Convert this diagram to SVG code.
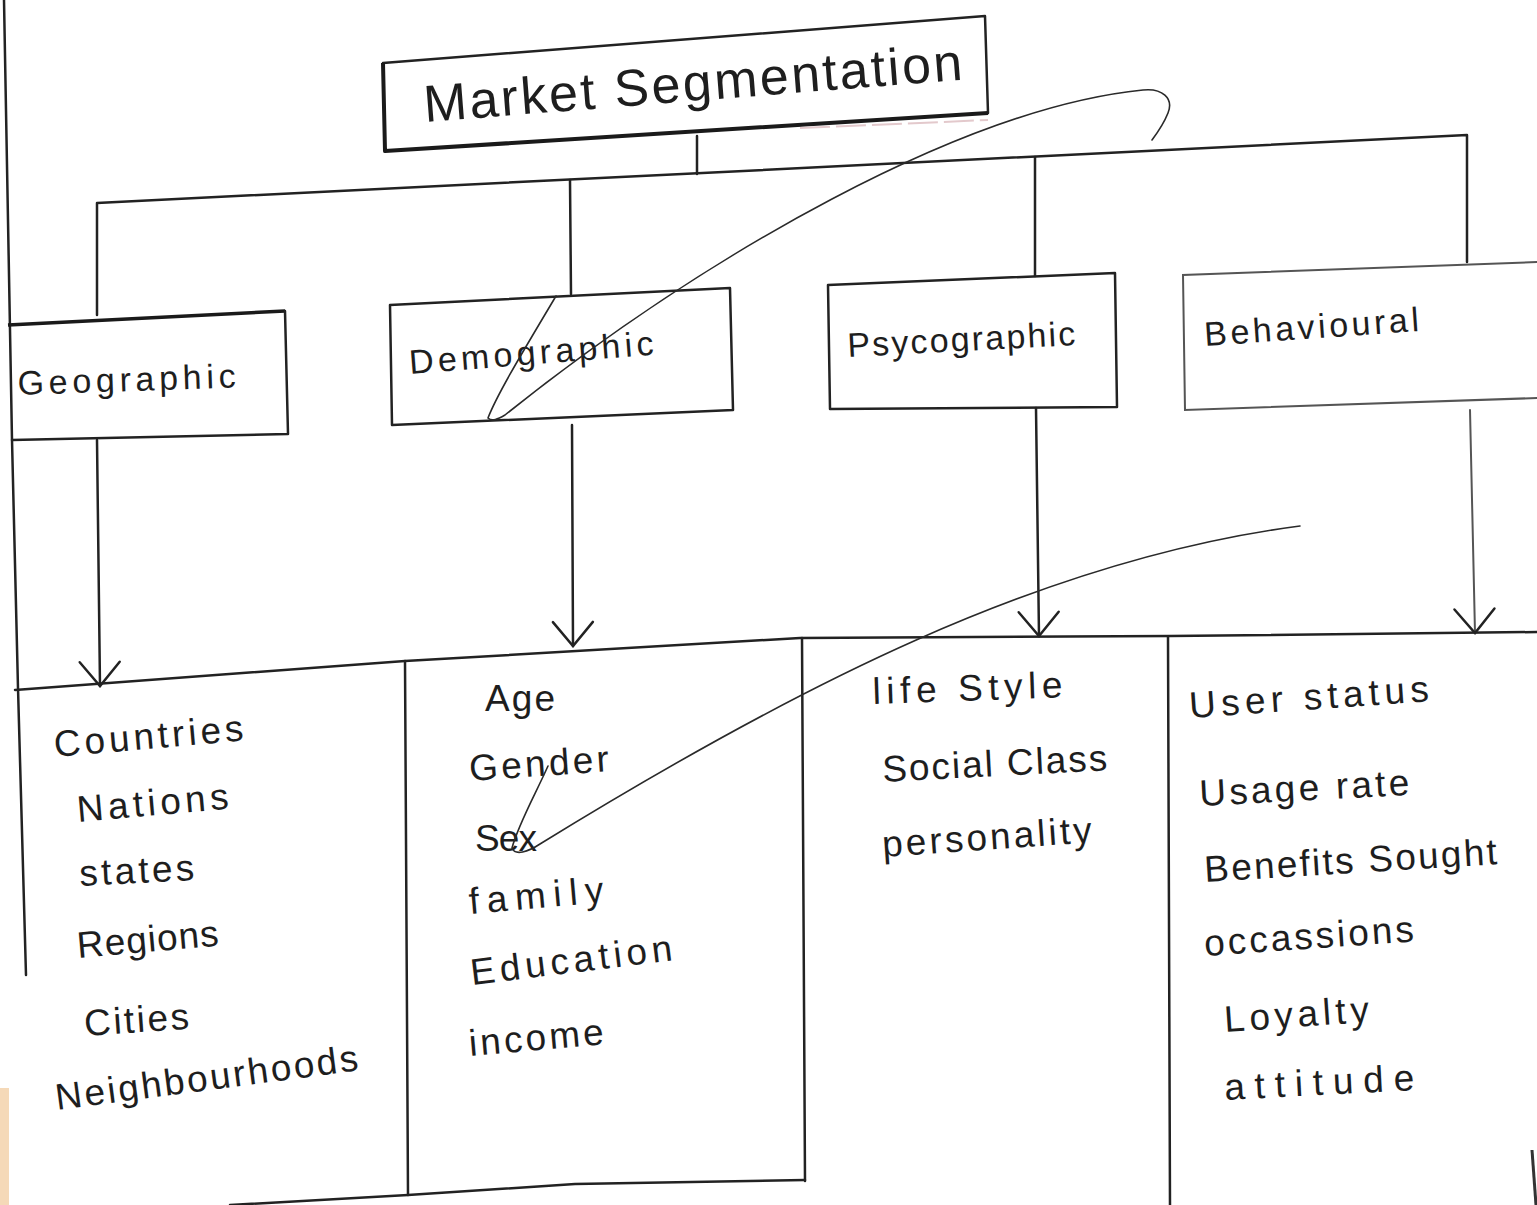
<svg xmlns="http://www.w3.org/2000/svg" width="1537" height="1205" viewBox="0 0 1537 1205">
  <style>
    .ink { fill: none; stroke: #222; stroke-width: 2.5; stroke-linecap: round; stroke-linejoin: round; }
    .thin { fill: none; stroke: #2a2a2a; stroke-width: 1.6; stroke-linecap: round; }
    .soft { fill: none; stroke: #555; stroke-width: 2; stroke-linecap: round; }
    .hand { font-family: "Liberation Sans", "DejaVu Sans", sans-serif; fill: #1e1e1e; font-size: 37px; }
    .title { font-size: 52px; }
    .cat { font-size: 34px; }
  </style>
  <defs>
    <marker id="vhead" markerUnits="userSpaceOnUse" viewBox="-30 -30 60 60" markerWidth="60" markerHeight="60" refX="0" refY="0" orient="auto" overflow="visible">
      <path d="M-24,-20 L0,0 L-24,20" fill="none" stroke="#222" stroke-width="2.5" stroke-linecap="round"/>
    </marker>
    <linearGradient id="fade" gradientUnits="userSpaceOnUse" x1="880" y1="0" x2="1310" y2="0">
      <stop offset="0" stop-color="#333"/>
      <stop offset="0.4" stop-color="#999"/>
      <stop offset="1" stop-color="#eadede"/>
    </linearGradient>
  </defs>

  <rect width="1537" height="1205" fill="#ffffff"/>

  <!-- paper edges -->
  <g id="page">
    <path class="ink" d="M4,0 L12,440 L18,688 L26,975"/>
    <rect x="0" y="1088" width="9" height="117" fill="#efc089" opacity="0.6"/>
    <path d="M1532,1150 L1536,1205" stroke="#333" stroke-width="3" fill="none"/>
  </g>

  <!-- root -->
  <g id="node-market-segmentation">
    <path class="ink" d="M383,63 L985,16 L988,113"/>
    <path d="M988,113 L385,151 L383,63" fill="none" stroke="#1a1a1a" stroke-width="4" stroke-linejoin="round"/>
    <path d="M800,128 L988,120" fill="none" stroke="#e3c9cc" stroke-width="2" stroke-dasharray="30 6"/>
    <text class="hand title" x="425" y="122" textLength="540" lengthAdjust="spacing" transform="rotate(-4.5 425 122)">Market Segmentation</text>
  </g>

  <!-- category boxes -->
  <g id="node-geographic">
    <path d="M8,325 L285,311" fill="none" stroke="#1a1a1a" stroke-width="3.5"/>
    <path class="ink" d="M285,311 L288,434 L12,440"/>
    <text class="hand cat" x="18" y="395" textLength="218" lengthAdjust="spacing" transform="rotate(-2 18 395)">Geographic</text>
  </g>
  <g id="node-demographic">
    <path class="ink" d="M390,305 L730,288 L733,410 L392,425 Z"/>
    <text class="hand cat" x="410" y="374" textLength="245" lengthAdjust="spacing" transform="rotate(-4.5 410 374)">Demographic</text>
  </g>
  <g id="node-psycographic">
    <path class="ink" d="M828,285 L1115,273 L1117,407 L830,409 Z"/>
    <text class="hand cat" x="848" y="357" textLength="228" lengthAdjust="spacing" transform="rotate(-3 848 357)">Psycographic</text>
  </g>
  <g id="node-behavioural">
    <path class="soft" d="M1537,262 L1183,275 L1185,410 L1537,398"/>
    <text class="hand cat" x="1205" y="346" textLength="215" lengthAdjust="spacing" transform="rotate(-4 1205 346)">Behavioural</text>
  </g>

  <!-- connectors -->
  <g id="connectors">
    <path class="ink" d="M697,136 L697,174"/>
    <path class="ink" d="M97,315 L97,203 L1467,135 L1467,262"/>
    <path class="ink" d="M570,180 L571,294"/>
    <path class="ink" d="M1035,157 L1035,276"/>
    <path class="ink" d="M97,440 L100,686" marker-end="url(#vhead)"/>
    <path class="ink" d="M572,425 L573,646" marker-end="url(#vhead)"/>
    <path class="ink" d="M1036,408 L1039,636" marker-end="url(#vhead)"/>
    <path class="soft" d="M1470,410 L1475,633" marker-end="url(#vhead)"/>
  </g>

  <!-- table grid -->
  <g id="table">
    <path class="ink" d="M15,690 L405,661 L800,638 L1170,636 L1537,632"/>
    <path class="ink" d="M405,661 L408,1195"/>
    <path class="ink" d="M802,638 L805,1181"/>
    <path class="ink" d="M1168,637 L1170,1205"/>
    <path class="ink" d="M230,1205 L408,1195 L575,1184 L805,1180"/>
  </g>

  <!-- column contents -->
  <g id="node-geographic-items" class="hand">
    <text x="55" y="757" textLength="190" lengthAdjust="spacing" transform="rotate(-5 55 757)">Countries</text>
    <text x="78" y="822" textLength="152" lengthAdjust="spacing" transform="rotate(-5 78 822)">Nations</text>
    <text x="80" y="886" textLength="115" lengthAdjust="spacing" transform="rotate(-3 80 886)">states</text>
    <text x="78" y="958" textLength="142" lengthAdjust="spacing" transform="rotate(-5 78 958)">Regions</text>
    <text x="85" y="1036" textLength="105" lengthAdjust="spacing" transform="rotate(-4 85 1036)">Cities</text>
    <text x="57" y="1110" textLength="305" lengthAdjust="spacing" transform="rotate(-7.5 57 1110)">Neighbourhoods</text>
  </g>
  <g id="node-demographic-items" class="hand">
    <text x="485" y="711" textLength="70" lengthAdjust="spacing">Age</text>
    <text x="470" y="781" textLength="140" lengthAdjust="spacing" transform="rotate(-4 470 781)">Gender</text>
    <text x="475" y="851" textLength="62" lengthAdjust="spacing">Sex</text>
    <text x="470" y="914" textLength="135" lengthAdjust="spacing" transform="rotate(-5 470 914)">family</text>
    <text x="472" y="985" textLength="203" lengthAdjust="spacing" transform="rotate(-7 472 985)">Education</text>
    <text x="470" y="1056" textLength="135" lengthAdjust="spacing" transform="rotate(-5 470 1056)">income</text>
  </g>
  <g id="node-psycographic-items" class="hand">
    <text x="873" y="704" textLength="190" lengthAdjust="spacing" transform="rotate(-2 873 704)">life Style</text>
    <text x="883" y="782" textLength="225" lengthAdjust="spacing" transform="rotate(-3 883 782)">Social Class</text>
    <text x="883" y="857" textLength="210" lengthAdjust="spacing" transform="rotate(-4 883 857)">personality</text>
  </g>
  <g id="node-behavioural-items" class="hand">
    <text x="1190" y="718" textLength="240" lengthAdjust="spacing" transform="rotate(-4 1190 718)">User status</text>
    <text x="1200" y="806" textLength="210" lengthAdjust="spacing" transform="rotate(-3 1200 806)">Usage rate</text>
    <text x="1205" y="882" textLength="293" lengthAdjust="spacing" transform="rotate(-3.5 1205 882)">Benefits Sought</text>
    <text x="1205" y="956" textLength="210" lengthAdjust="spacing" transform="rotate(-4 1205 956)">occassions</text>
    <text x="1225" y="1032" textLength="145" lengthAdjust="spacing" transform="rotate(-4 1225 1032)">Loyalty</text>
    <text x="1225" y="1100" textLength="190" lengthAdjust="spacing" transform="rotate(-3 1225 1100)">attitude</text>
  </g>

  <!-- pen strokes across the sheet -->
  <g id="annotations">
    <path class="thin" d="M556,296 C530,340 498,392 488,418 C492,422 498,419 505,415 C705,255 963,108 1143,90 C1162,88 1174,98 1168,113 C1164,123 1158,132 1152,140"/>
    <path class="thin" stroke="url(#fade)" d="M548,766 C535,795 518,825 512,848 C515,856 528,852 540,844 C790,690 1040,560 1300,526"/>
  </g>
</svg>
